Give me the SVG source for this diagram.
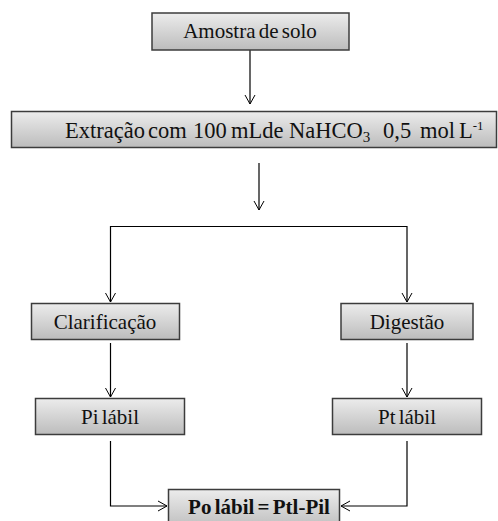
<svg xmlns="http://www.w3.org/2000/svg" width="498" height="521" viewBox="0 0 498 521">
<defs>
<linearGradient id="g" x1="0" y1="0" x2="0" y2="1">
<stop offset="0" stop-color="#ececec"/>
<stop offset="1" stop-color="#bcbcbc"/>
</linearGradient>
<marker id="a" markerWidth="12" markerHeight="12" refX="10" refY="6" orient="auto" markerUnits="userSpaceOnUse">
<path d="M1,1 L10,6 L1,11" fill="none" stroke="#000" stroke-width="1"/>
</marker>
<style>
.box{fill:url(#g);stroke:#3c3c3c;stroke-width:1.5}
.t{font-family:'Liberation Serif','DejaVu Serif',serif;font-size:21px;fill:#111;text-anchor:middle;word-spacing:-2px}
.s{text-anchor:start;font-size:22.5px}
.b{font-weight:bold}
.c{fill:none;stroke:#000;stroke-width:1.2}
</style>
</defs>
<g id="connectors">
<path class="c" d="M250,50 V104" marker-end="url(#a)"/>
<path class="c" d="M259,163 V210" marker-end="url(#a)"/>
<path class="c" d="M259,226.5 H110.5 V302" marker-end="url(#a)"/>
<path class="c" d="M259,226.5 H407 V302" marker-end="url(#a)"/>
<path class="c" d="M110.5,343 V397" marker-end="url(#a)"/>
<path class="c" d="M407,343 V397" marker-end="url(#a)"/>
<path class="c" d="M110.5,441 V506 H167" marker-end="url(#a)"/>
<path class="c" d="M407,441 V506 H341" marker-end="url(#a)"/>
</g>
<g id="n1"><rect class="box" x="152" y="13" width="197" height="37"/><text class="t" x="250" y="38" font-family="Liberation Serif, serif">Amostra de solo</text></g>
<g id="n2"><rect class="box" x="11.5" y="111.5" width="485" height="36"/><text class="t s" y="138" font-family="Liberation Serif, serif"><tspan x="65">Extração</tspan><tspan x="148">com</tspan><tspan x="193">100</tspan><tspan x="231">mLde</tspan><tspan x="289">NaHCO</tspan><tspan font-size="15" dy="4">3</tspan><tspan x="383" dy="-4">0,5</tspan><tspan x="420">mol</tspan><tspan x="459">L</tspan><tspan font-size="13" dy="-8">-1</tspan></text></g>
<g id="n3"><rect class="box" x="31.5" y="303.5" width="148" height="36"/><text class="t" x="105" y="329" font-family="Liberation Serif, serif">Clarificação</text></g>
<g id="n4"><rect class="box" x="341" y="303.5" width="132" height="36"/><text class="t" x="407" y="329" font-family="Liberation Serif, serif">Digestão</text></g>
<g id="n5"><rect class="box" x="35.5" y="398.5" width="149" height="36"/><text class="t" x="110" y="424" font-family="Liberation Serif, serif">Pi lábil</text></g>
<g id="n6"><rect class="box" x="332.5" y="398.5" width="149" height="36"/><text class="t" x="407" y="424" font-family="Liberation Serif, serif">Pt lábil</text></g>
<g id="n7"><rect class="box" x="168.5" y="489.5" width="171" height="40"/><text class="t b" x="259" y="514" font-family="Liberation Serif, serif">Po lábil = Ptl-Pil</text></g>
</svg>
